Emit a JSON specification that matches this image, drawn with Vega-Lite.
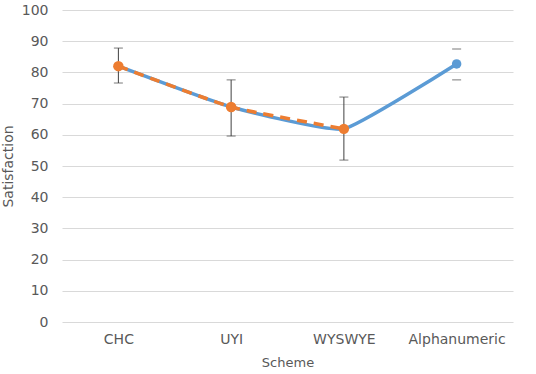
{
  "$schema": "https://vega.github.io/schema/vega-lite/v6.json",
  "width": 451,
  "height": 312,
  "autosize": {"type": "none"},
  "padding": {"left": 62, "top": 10, "right": 23, "bottom": 52},
  "background": "white",
  "config": {
    "view": {"stroke": null},
    "font": "DejaVu Sans",
    "axis": {
      "labelColor": "#595959",
      "titleColor": "#595959",
      "labelFont": "DejaVu Sans",
      "titleFont": "DejaVu Sans",
      "titleFontWeight": "normal",
      "labelFontSize": 14,
      "titleFontSize": 14,
      "labelOverlap": false,
      "domain": false,
      "ticks": false,
      "tickSize": 0
    }
  },
  "data": {
    "values": [
      {"scheme": "CHC", "sat": 82.0, "lo": 76.6, "hi": 87.8},
      {"scheme": "UYI", "sat": 68.9, "lo": 59.6, "hi": 77.6},
      {"scheme": "WYSWYE", "sat": 61.9, "lo": 51.9, "hi": 72.1},
      {"scheme": "Alphanumeric", "sat": 82.7, "lo": 77.6, "hi": 87.5}
    ]
  },
  "encoding": {
    "x": {
      "field": "scheme",
      "type": "nominal",
      "sort": ["CHC", "UYI", "WYSWYE", "Alphanumeric"],
      "scale": {"type": "point", "padding": 0.5},
      "axis": {
        "title": "Scheme",
        "titleFontSize": 13,
        "labelAngle": 0,
        "labelPadding": 10,
        "titlePadding": 10,
        "grid": false
      }
    }
  },
  "layer": [
    {
      "mark": {"type": "rule", "color": "#D9D9D9", "strokeWidth": 1},
      "encoding": {
        "y": {
          "datum": 0,
          "type": "quantitative",
          "scale": {"domain": [0, 100], "nice": false},
          "axis": {
            "title": "Satisfaction",
            "values": [0, 10, 20, 30, 40, 50, 60, 70, 80, 90, 100],
            "grid": true,
            "gridColor": "#D9D9D9",
            "labelPadding": 14,
            "titlePadding": 6
          }
        }
      }
    },
    {
      "mark": {"type": "line", "color": "#5B9BD5", "strokeWidth": 3.5, "interpolate": "cardinal", "tension": 0.6},
      "encoding": {"y": {"field": "sat", "type": "quantitative", "axis": {"values": [0, 10, 20, 30, 40, 50, 60, 70, 80, 90, 100], "grid": true, "gridColor": "#D9D9D9", "title": "Satisfaction", "labelPadding": 14, "titlePadding": 6}}}
    },
    {
      "transform": [{"filter": "datum.scheme !== 'Alphanumeric'"}],
      "mark": {"type": "line", "color": "#ED7D31", "strokeWidth": 3.5, "strokeDash": [10, 7], "interpolate": "cardinal", "tension": 0.6},
      "encoding": {"y": {"field": "sat", "type": "quantitative", "axis": {"values": [0, 10, 20, 30, 40, 50, 60, 70, 80, 90, 100], "grid": true, "gridColor": "#D9D9D9", "title": "Satisfaction", "labelPadding": 14, "titlePadding": 6}}}
    },
    {
      "transform": [{"filter": "datum.scheme !== 'Alphanumeric'"}],
      "mark": {"type": "rule", "color": "#404040", "strokeWidth": 1},
      "encoding": {
        "y": {"field": "lo", "type": "quantitative", "axis": {"values": [0, 10, 20, 30, 40, 50, 60, 70, 80, 90, 100], "grid": true, "gridColor": "#D9D9D9", "title": "Satisfaction", "labelPadding": 14, "titlePadding": 6}},
        "y2": {"field": "hi"}
      }
    },
    {
      "mark": {"type": "tick", "color": "#404040", "thickness": 1, "size": 9, "orient": "horizontal"},
      "encoding": {"y": {"field": "lo", "type": "quantitative", "axis": {"values": [0, 10, 20, 30, 40, 50, 60, 70, 80, 90, 100], "grid": true, "gridColor": "#D9D9D9", "title": "Satisfaction", "labelPadding": 14, "titlePadding": 6}}}
    },
    {
      "mark": {"type": "tick", "color": "#404040", "thickness": 1, "size": 9, "orient": "horizontal"},
      "encoding": {"y": {"field": "hi", "type": "quantitative", "axis": {"values": [0, 10, 20, 30, 40, 50, 60, 70, 80, 90, 100], "grid": true, "gridColor": "#D9D9D9", "title": "Satisfaction", "labelPadding": 14, "titlePadding": 6}}}
    },
    {
      "transform": [{"filter": "datum.scheme !== 'Alphanumeric'"}],
      "mark": {"type": "circle", "color": "#ED7D31", "opacity": 1, "size": 110},
      "encoding": {"y": {"field": "sat", "type": "quantitative", "axis": {"values": [0, 10, 20, 30, 40, 50, 60, 70, 80, 90, 100], "grid": true, "gridColor": "#D9D9D9", "title": "Satisfaction", "labelPadding": 14, "titlePadding": 6}}}
    },
    {
      "transform": [{"filter": "datum.scheme === 'Alphanumeric'"}],
      "mark": {"type": "circle", "color": "#5B9BD5", "opacity": 1, "size": 90},
      "encoding": {"y": {"field": "sat", "type": "quantitative", "axis": {"values": [0, 10, 20, 30, 40, 50, 60, 70, 80, 90, 100], "grid": true, "gridColor": "#D9D9D9", "title": "Satisfaction", "labelPadding": 14, "titlePadding": 6}}}
    }
  ]
}
